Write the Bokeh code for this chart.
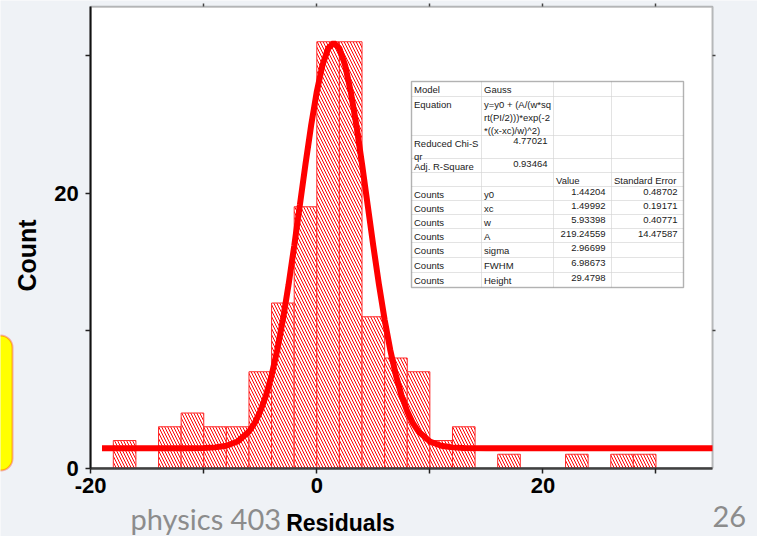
import math
from bokeh.plotting import figure
from bokeh.models import Range1d, FixedTicker, Label, BoxAnnotation, LinearAxis
from bokeh.embed import file_html
from bokeh.resources import INLINE

# ---------------- data ----------------
bin_left = [-18, -16, -14, -12, -10, -8, -6, -4, -2, 0, 2, 4, 6, 8, 10, 12, 14, 16, 18, 20, 22, 24, 26, 28]
counts = [2, 0, 3, 4, 3, 3, 7, 12, 19, 31, 31, 11, 8, 7, 2, 3, 0, 1, 0, 0, 1, 0, 1, 1]
bin_width = 2

fit_x = [-19, -12, -10, -9, -8, -7, -6, -5.5, -5, -4.5, -4, -3.5, -3, -2.5, -2, -1.5, -1, -0.5,
         0, 0.5, 1, 1.5, 2, 2.5, 3, 3.5, 4, 4.5, 5, 5.5, 6, 6.5, 7, 7.5, 8, 8.5, 9, 10, 11, 12, 13, 15, 35]
fit_y = [1.44, 1.44, 1.46, 1.50, 1.62, 1.93, 2.65, 3.26, 4.12, 5.26, 6.73, 8.57, 10.78, 13.32, 16.14,
         19.12, 22.11, 24.93, 27.38, 29.30, 30.51, 30.92, 30.51, 29.30, 27.38, 24.93, 22.11, 19.12,
         16.14, 13.32, 10.78, 8.57, 6.73, 5.26, 4.12, 3.26, 2.65, 1.93, 1.62, 1.50, 1.46, 1.44, 1.44]

x_axis_span = (-20, 35)
y_axis_span = (0, 33.55)
x_major_ticks = [-20, 0, 20]
x_minor_ticks = [-10, 10, 30]
x_top_ticks = [-10, 0, 10, 20, 30]
y_major_ticks = [0, 20]
y_minor_ticks = [10, 30]

x_label = "Residuals"
y_label = "Count"
footer_left = "physics 403"
footer_right = "26"

table_col1 = ["Model", "Equation", "Reduced Chi-S\nqr", "Adj. R-Square", "",
              "Counts", "Counts", "Counts", "Counts", "Counts", "Counts", "Counts"]
table_col2 = ["Gauss", "y=y0 + (A/(w*sq\nrt(PI/2)))*exp(-2\n*((x-xc)/w)^2)", "4.77021", "0.93464", "",
              "y0", "xc", "w", "A", "sigma", "FWHM", "Height"]
table_col3 = ["", "", "", "", "Value",
              "1.44204", "1.49992", "5.93398", "219.24559", "2.96699", "6.98673", "29.4798"]
table_col4 = ["", "", "", "", "Standard Error",
              "0.48702", "0.19171", "0.40771", "14.47587", "", "", ""]

# ---------------- layout (page pixels) ----------------
W, H = 757, 536
PAGE_X0, PAGE_Y0 = 0, 0
AX_LEFT_PX, AX_RIGHT_PX = 90.2, 712.0     # chart box left / right on the page
AX_BOTTOM_PX = 467.5                      # y = 0 on the page
Y_PX_PER_UNIT = 13.75

x_px_per_unit = (AX_RIGHT_PX - AX_LEFT_PX) / (x_axis_span[1] - x_axis_span[0])
x_start = x_axis_span[0] - (AX_LEFT_PX - PAGE_X0) / x_px_per_unit
x_end = x_axis_span[0] + (PAGE_X0 + W - AX_LEFT_PX) / x_px_per_unit
y_start = -(PAGE_Y0 + H - AX_BOTTOM_PX) / Y_PX_PER_UNIT
y_end = (AX_BOTTOM_PX - PAGE_Y0) / Y_PX_PER_UNIT


def sx(px):
    return px - PAGE_X0


def sy(py):
    return PAGE_Y0 + H - py


p = figure(width=W, height=H, output_backend="svg", toolbar_location=None,
           x_range=Range1d(x_start, x_end), y_range=Range1d(y_start, y_end),
           min_border_left=0, min_border_right=0, min_border_top=0, min_border_bottom=0)
p.background_fill_color = "#eff2f6"
p.border_fill_color = "#eff2f6"
p.outline_line_color = None
p.xgrid.visible = False
p.ygrid.visible = False

# white chart box
p.add_layout(BoxAnnotation(left=x_axis_span[0], right=x_axis_span[1],
                           bottom=y_axis_span[0], top=y_axis_span[1],
                           fill_color="white", fill_alpha=1,
                           line_color="#222222", line_width=2, level="underlay"))

# bars
lefts, rights, tops = [], [], []
for l, c in zip(bin_left, counts):
    if c > 0:
        lefts.append(l)
        rights.append(l + bin_width)
        tops.append(c)
p.quad(left=lefts, right=rights, bottom=0, top=tops,
       fill_color="white", line_color="#ff2a2a", line_width=1,
       hatch_pattern="\\", hatch_color="#ff0000", hatch_scale=6, hatch_weight=1)

# fit curve
p.line(fit_x, fit_y, line_color="#ff0000", line_width=6)

# axes, pinned to the chart box
p.xaxis.fixed_location = 0
p.yaxis.fixed_location = x_axis_span[0]
p.xaxis.bounds = x_axis_span
p.yaxis.bounds = y_axis_span
p.xaxis.ticker = FixedTicker(ticks=x_major_ticks, minor_ticks=x_minor_ticks)
p.yaxis.ticker = FixedTicker(ticks=y_major_ticks, minor_ticks=y_minor_ticks)
p.xaxis.major_label_overrides = {t: str(t) for t in x_major_ticks}
p.yaxis.major_label_overrides = {t: str(t) for t in y_major_ticks}
for ax in p.axis:
    ax.major_label_text_font = "Liberation Sans"
    ax.major_label_text_font_style = "bold"
    ax.major_label_text_font_size = "22px"
    ax.major_label_text_color = "black"
    ax.major_tick_in = 0
    ax.major_tick_out = 5
    ax.minor_tick_in = 0
    ax.minor_tick_out = 5
    ax.major_tick_line_color = "#222222"
    ax.minor_tick_line_color = "#222222"
    ax.major_tick_line_width = 1.5
    ax.minor_tick_line_width = 1.5
p.xaxis.axis_line_color = "#404040"
p.xaxis.axis_line_width = 2.5
p.xaxis.major_label_standoff = 5
p.yaxis.axis_line_color = "#111111"
p.yaxis.axis_line_width = 2
p.yaxis.major_label_standoff = 7

# small tick marks on the top and right edges of the box
top_axis = LinearAxis(fixed_location=y_axis_span[1], bounds=x_axis_span,
                      ticker=FixedTicker(ticks=[], minor_ticks=x_top_ticks),
                      axis_line_color=None, minor_tick_in=0, minor_tick_out=3,
                      minor_tick_line_color="#444444", minor_tick_line_width=1.5)
right_axis = LinearAxis(fixed_location=x_axis_span[1], bounds=y_axis_span,
                        ticker=FixedTicker(ticks=[], minor_ticks=y_minor_ticks),
                        axis_line_color=None, minor_tick_in=0, minor_tick_out=3,
                        minor_tick_line_color="#444444", minor_tick_line_width=1.5)
p.add_layout(top_axis, "above")
p.add_layout(right_axis, "right")

# axis titles
p.add_layout(Label(x=sx(26), y=sy(255), x_units="screen", y_units="screen", text=y_label,
                   angle=math.pi / 2, text_align="center", text_baseline="middle",
                   text_font="Liberation Sans", text_font_style="bold", text_font_size="25px",
                   text_color="black"))
p.add_layout(Label(x=sx(340), y=sy(522), x_units="screen", y_units="screen", text=x_label,
                   text_align="center", text_baseline="middle",
                   text_font="Liberation Sans", text_font_style="bold", text_font_size="23px",
                   text_color="black"))

# slide footer
p.add_layout(Label(x=sx(130), y=sy(518), x_units="screen", y_units="screen", text=footer_left,
                   text_align="left", text_baseline="alphabetic",
                   text_font="Lato", text_font_size="29px", text_color="#8c8c8c"))
p.add_layout(Label(x=sx(712), y=sy(516), x_units="screen", y_units="screen", text=footer_right,
                   text_align="left", text_baseline="alphabetic",
                   text_font="Lato", text_font_size="29px", text_color="#8c8c8c"))

# yellow call-out box at the slide edge
p.add_layout(BoxAnnotation(left=sx(-60), right=sx(12), top=sy(335), bottom=sy(470),
                           left_units="screen", right_units="screen", top_units="screen",
                           bottom_units="screen", fill_color="#ffff00", fill_alpha=1,
                           line_color="#ff0000", line_width=2, border_radius=12))

# fit results table
col_px = [411, 481, 553, 611, 683]
row_px = [81, 96, 135, 158, 172, 186, 200, 214, 228, 242, 257, 272, 287]
cols = [table_col1, table_col2, table_col3, table_col4]

for i in range(len(row_px) - 1):
    for j in range(4):
        p.add_layout(BoxAnnotation(left=sx(col_px[j]), right=sx(col_px[j + 1]),
                                   top=sy(row_px[i]), bottom=sy(row_px[i + 1]),
                                   left_units="screen", right_units="screen",
                                   top_units="screen", bottom_units="screen",
                                   fill_color="white", fill_alpha=1,
                                   line_color="#b8b8b8", line_width=1))
p.add_layout(BoxAnnotation(left=sx(col_px[0]), right=sx(col_px[-1]),
                           top=sy(row_px[0]), bottom=sy(row_px[-1]),
                           left_units="screen", right_units="screen",
                           top_units="screen", bottom_units="screen",
                           fill_alpha=0, line_color="#333333", line_width=1.5))


def is_number(s):
    try:
        float(s)
        return True
    except ValueError:
        return False


for i in range(len(row_px) - 1):
    for j in range(4):
        t = cols[j][i]
        if not t:
            continue
        if is_number(t):
            x, align = col_px[j + 1] - 6, "right"
        else:
            x, align = col_px[j] + 2.5, "left"
        p.add_layout(Label(x=sx(x), y=sy(row_px[i] + 2), x_units="screen", y_units="screen",
                           text=t, text_align=align, text_baseline="top",
                           text_font="Liberation Sans", text_font_size="9.5px",
                           text_color="#1a1a1a", text_line_height=1.2))

open("out.html", "w").write(file_html(p, INLINE))
